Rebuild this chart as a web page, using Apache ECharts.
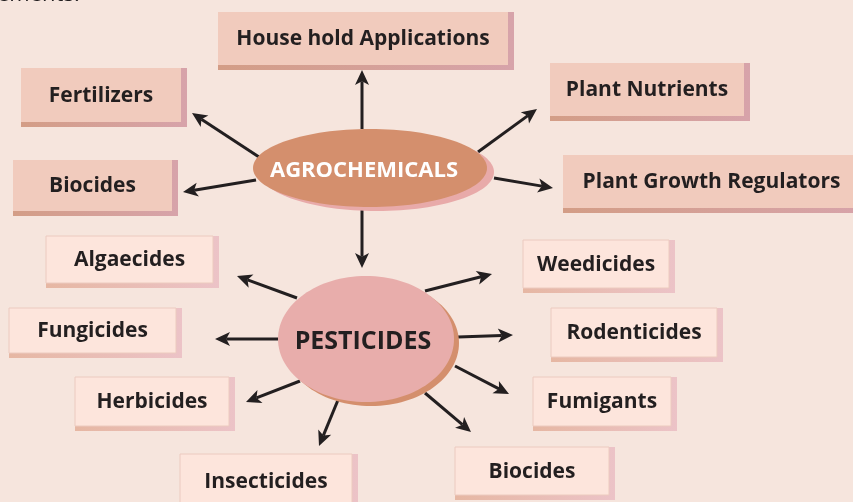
<!DOCTYPE html>
<html><head><meta charset="utf-8">
<script src="https://cdn.jsdelivr.net/npm/echarts@6/dist/echarts.min.js"></script>
<style>html,body{margin:0;padding:0;background:#f6e5dd;}#c{width:853px;height:502px;}</style>
</head><body><div id="c"></div>
<script>
// ---- data ----
const boxLabels = ['House hold Applications','Fertilizers','Biocides','Plant Nutrients','Plant Growth Regulators',
  'Algaecides','Fungicides','Herbicides','Insecticides','Biocides','Fumigants','Rodenticides','Weedicides'];
const boxLevel = [1,1,1,1,1,2,2,2,2,2,2,2,2];
const boxRects = [
  [218,12,508,65],[21,68,181,122],[13,160,172,211],[550,63,744,116],[563,155,860,208],
  [46,236,213,283],[9,308,176,353],[75,377,229,426],[180,454,352,508],[455,447,609,495],
  [533,377,671,426],[551,308,717,357],[523,240,669,288]
];
const hubLabels = ['AGROCHEMICALS','PESTICIDES'];
const hubCenters = [[370,168],[366,339]];
const hubRadii = [[117,39],[88,63]];
const arrowFrom = [[362,129],[362,209],[259,157],[256,180],[478,152],[494,178],
  [297,298],[278,339],[300,381],[338,400],[425,393],[455,366],[458,337],[425,291]];
const arrowTo = [[362,70],[362,268],[192,113],[183,192],[537,109],[553,188],
  [237,276],[215,339],[246,402],[319,446],[471,432],[509,394],[513,335],[492,274]];
const topNote = 'ements.';

// ---- chart ----
const chart = echarts.init(document.getElementById('c'));
const lvlStyle = {
  1:{fill:'#f1cbbd', s0:'#d39d86', s1:'#d7a3aa', stroke:null},
  2:{fill:'#fde5dc', s0:'#e6b7a3', s1:'#ecc3c7', stroke:'#eccabf'}
};
const FONT = '"Open Sans", Lato, sans-serif';
chart.setOption({
  backgroundColor:'#f6e5dd',
  animation:false,
  grid:{left:0,right:0,top:0,bottom:0},
  xAxis:{type:'value',min:0,max:853,show:false},
  yAxis:{type:'value',min:0,max:502,inverse:true,show:false},
  graphic:[{type:'text',x:-3,y:-16,style:{text:topNote,font:'22px '+FONT,fill:'#231f20'}}],
  series:[
    {type:'custom',coordinateSystem:'cartesian2d',silent:true,
     data:boxRects.map((r,i)=>[r[0],r[1],r[2],r[3],i]),
     renderItem:function(params,api){
       const i=api.value(4);
       const p0=api.coord([api.value(0),api.value(1)]);
       const p1=api.coord([api.value(2),api.value(3)]);
       const w=p1[0]-p0[0], h=p1[1]-p0[1];
       const st=lvlStyle[boxLevel[i]];
       return {type:'group',children:[
         {type:'rect',shape:{x:p0[0],y:p0[1],width:w+6,height:h+5},
          style:{fill:{type:'linear',x:0,y:0,x2:1,y2:0,colorStops:[{offset:0,color:st.s0},{offset:1,color:st.s1}]}}},
         {type:'rect',shape:{x:p0[0],y:p0[1],width:w,height:h},
          style:{fill:st.fill,stroke:st.stroke,lineWidth:st.stroke?1:0}},
         {type:'text',style:{text:boxLabels[i],x:p0[0]+w/2,y:p0[1]+h/2+1,align:'center',verticalAlign:'middle',
          font:'bold 21px '+FONT,fill:'#231f20'}}
       ]};
     }},
    {type:'custom',coordinateSystem:'cartesian2d',silent:true,
     data:arrowFrom.map((a,i)=>[a[0],a[1],arrowTo[i][0],arrowTo[i][1]]),
     renderItem:function(params,api){
       const a=api.coord([api.value(0),api.value(1)]);
       const b=api.coord([api.value(2),api.value(3)]);
       const dx=b[0]-a[0], dy=b[1]-a[1], L=Math.hypot(dx,dy);
       const ux=dx/L, uy=dy/L, nx=-uy, ny=ux;
       const hl=15, hw=7;
       const bx=b[0]-ux*hl, by=b[1]-uy*hl;
       const ix=b[0]-ux*hl*0.75, iy=b[1]-uy*hl*0.75;
       return {type:'group',children:[
         {type:'line',shape:{x1:a[0],y1:a[1],x2:ix,y2:iy},style:{stroke:'#231f20',lineWidth:3}},
         {type:'polygon',shape:{points:[[b[0],b[1]],[bx+nx*hw,by+ny*hw],[ix,iy],[bx-nx*hw,by-ny*hw]]},
          style:{fill:'#231f20'}}
       ]};
     }},
    {type:'custom',coordinateSystem:'cartesian2d',silent:true,
     data:hubCenters.map((c,i)=>[c[0],c[1],hubRadii[i][0],hubRadii[i][1],i]),
     renderItem:function(params,api){
       const i=api.value(4);
       const c=api.coord([api.value(0),api.value(1)]);
       const e=api.coord([api.value(0)+api.value(2),api.value(1)+api.value(3)]);
       const rx=e[0]-c[0], ry=e[1]-c[1];
       const agro=i===0;
       const sh=agro?[7,4]:[5,4];
       return {type:'group',children:[
         {type:'ellipse',shape:{cx:c[0]+sh[0],cy:c[1]+sh[1],rx:rx,ry:ry},style:{fill:agro?'#e8aaa9':'#d48f6d'}},
         {type:'ellipse',shape:{cx:c[0],cy:c[1],rx:rx,ry:ry},style:{fill:agro?'#d48f6d':'#e8adab'}},
         {type:'text',style:{text:hubLabels[i],x:c[0]-(agro?6:3),y:c[1]+3,align:'center',verticalAlign:'middle',
          font:(agro?'bold 22px ':'bold 25px ')+FONT,fill:agro?'#ffffff':'#231f20'}}
       ]};
     }}
  ]
});
</script></body></html>
